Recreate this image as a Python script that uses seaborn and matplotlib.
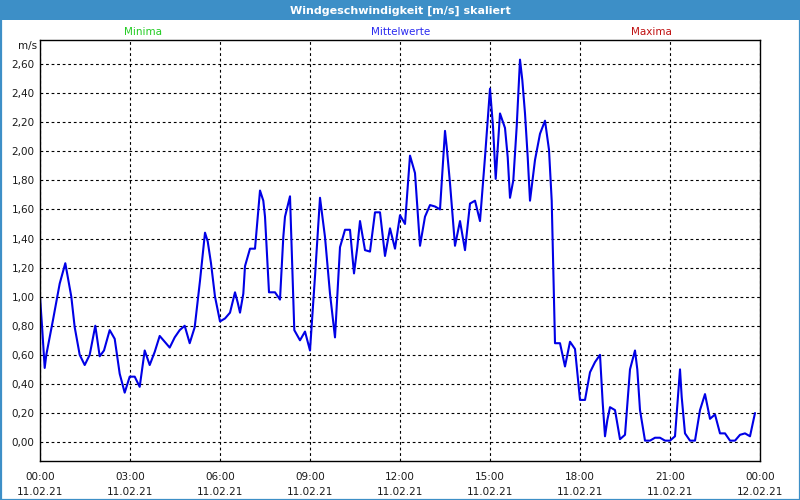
import numpy as np
import pandas as pd
import matplotlib
matplotlib.use("Agg")
import matplotlib.pyplot as plt
from matplotlib.patches import Rectangle
from matplotlib.ticker import FixedLocator, MultipleLocator, FuncFormatter
import seaborn as sns

# ---- data (x as pixel-derived clock hours) ----
title = "Windgeschwindigkeit [m/s] skaliert"
legend_labels = ["Minima", "Mittelwerte", "Maxima"]
y_unit = "m/s"
x_tick_hours = [0, 3, 6, 9, 12, 15, 18, 21, 24]
x_tick_labels = ["00:00\n11.02.21", "03:00\n11.02.21", "06:00\n11.02.21",
                 "09:00\n11.02.21", "12:00\n11.02.21", "15:00\n11.02.21",
                 "18:00\n11.02.21", "21:00\n11.02.21", "00:00\n12.02.21"]
y_ticks = [0.0, 0.2, 0.4, 0.6, 0.8, 1.0, 1.2, 1.4, 1.6, 1.8, 2.0, 2.2, 2.4, 2.6]

px_x = [40, 42, 44.7, 46.3, 53, 59.7, 65.3, 71.3, 74.7, 79.7, 84.7, 89.7, 95.3,
        99.7, 104, 109.7, 114.7, 119.7, 124.7, 129.7, 134.7, 139.7, 144.7,
        149.7, 154.7, 159.7, 164.7, 169.7, 174.7, 179.7, 184.7, 189.7, 194.7,
        200, 205, 207.7, 211, 215, 220, 225, 230, 235, 237.7, 240, 243.3, 245,
        250, 255, 260, 263.3, 265, 269, 275, 280, 283.3, 285, 290, 294.3, 300,
        305, 310, 315, 320, 325, 330, 335, 340, 345, 350,
        354, 357.3, 360, 365, 370, 375, 380, 385, 390, 395, 400, 405, 410, 415,
        420, 425, 430, 435, 440, 445, 446.7, 450, 455, 460, 465, 470, 475, 480,
        485, 490, 493, 495.7, 500,
        505, 507.7, 510, 513.3, 516.7, 520, 522.3, 525, 527.7, 530, 535, 540,
        545, 549, 551.7, 553.3, 555, 560, 565, 570, 575, 580, 585, 590, 595, 600,
        602.7, 605, 607.3, 610, 615, 620, 625, 630, 635, 637.3, 640, 645, 650,
        655, 660, 665, 670, 675, 680, 681.7, 685, 690, 695, 700, 705, 710, 715,
        720, 725, 730, 735, 740, 745, 750, 755]
speed = [1.00, 0.80, 0.51, 0.60, 0.84, 1.09, 1.23, 1.00, 0.79, 0.60, 0.53, 0.60, 0.80,
         0.59, 0.63, 0.77, 0.71, 0.47, 0.34, 0.45, 0.45, 0.38, 0.63,
         0.53, 0.62, 0.73, 0.69, 0.65, 0.72, 0.77, 0.80, 0.68, 0.79,
         1.11, 1.44, 1.38, 1.23, 1.00, 0.83, 0.85, 0.89, 1.03, 0.96, 0.89, 1.02, 1.21,
         1.33, 1.33, 1.73, 1.66, 1.55, 1.03, 1.03, 0.98, 1.41, 1.55, 1.69, 0.77, 0.70,
         0.76, 0.63, 1.14, 1.68, 1.41, 1.02, 0.72, 1.34, 1.46, 1.46,
         1.16, 1.34, 1.52, 1.32, 1.31, 1.58, 1.58, 1.28, 1.47, 1.33, 1.56, 1.50, 1.97, 1.85,
         1.35, 1.55, 1.63, 1.62, 1.60, 2.14, 2.03, 1.78, 1.35, 1.52, 1.32, 1.64, 1.66, 1.52,
         1.96, 2.43, 2.17, 1.81, 2.26,
         2.16, 1.96, 1.68, 1.80, 2.17, 2.63, 2.49, 2.26, 1.96, 1.66, 1.94, 2.12,
         2.21, 2.01, 1.66, 1.18, 0.68, 0.68, 0.52, 0.69, 0.64, 0.29, 0.29, 0.48, 0.55, 0.60,
         0.27, 0.04, 0.15, 0.24, 0.22, 0.02, 0.05, 0.50, 0.63, 0.50, 0.22, 0.01, 0.01,
         0.03, 0.03, 0.01, 0.01, 0.04, 0.50, 0.31, 0.06, 0.01, 0.01, 0.22, 0.33, 0.16, 0.19,
         0.06, 0.06, 0.01, 0.01, 0.05, 0.06, 0.04, 0.20]

hours = [(x - 40) / 30.0 for x in px_x]
df = pd.DataFrame({"hour": hours, "speed": speed})

# ---- styling ----
sns.set_style("white")
plt.rcParams["font.family"] = ["DejaVu Sans"]

W, H = 800, 500
fig = plt.figure(figsize=(8, 5), dpi=100)
fig.patch.set_facecolor("white")

frame_blue = "#3d8fc7"
# title bar
fig.patches.append(Rectangle((0, 1 - 20 / H), 1, 20 / H, transform=fig.transFigure,
                             facecolor=frame_blue, edgecolor="none", zorder=0))
# outer border
fig.patches.append(Rectangle((0.5 / W, 0.5 / H), 1 - 1 / W, 1 - 1 / H, transform=fig.transFigure,
                             facecolor="none", edgecolor=frame_blue, linewidth=1.6, zorder=5))
fig.text(0.5, 1 - 10.5 / H, title, ha="center", va="center", color="white",
         fontsize=8, fontweight="bold")

left, right, top, bottom = 40, 760, 40, 461
ax = fig.add_axes([left / W, (H - bottom) / H, (right - left) / W, (bottom - top) / H])
ax.set_facecolor("white")

sns.lineplot(data=df, x="hour", y="speed", ax=ax, color="#0000e6", linewidth=1.5,
             estimator=None, sort=False, legend=False)

ax.set_xlim(0, 24)
ax.set_ylim(-0.13, 2.765)

ax.xaxis.set_major_locator(FixedLocator(x_tick_hours))
ax.xaxis.set_minor_locator(MultipleLocator(1))
ax.set_xticklabels(x_tick_labels)
ax.yaxis.set_major_locator(FixedLocator(y_ticks))
ax.yaxis.set_major_formatter(FuncFormatter(lambda v, p: f"{v:.2f}".replace(".", ",")))

ax.tick_params(axis="x", which="both", direction="out", length=4, width=0.8,
               colors="black", labelsize=7.5, pad=3, labelcolor="#1a1a1a")
ax.tick_params(axis="x", which="major", length=5)
ax.tick_params(axis="y", which="both", length=0, labelsize=7.5, pad=4, labelcolor="#1a1a1a")
for lbl in ax.get_xticklabels():
    lbl.set_linespacing(1.65)

ax.grid(True, which="major", color="black", linestyle=(0, (2.5, 2.5)), linewidth=0.8)
ax.set_axisbelow(True)
for s in ax.spines.values():
    s.set_visible(True)
    s.set_color("black")
    s.set_linewidth(1.0)
ax.set_xlabel("")
ax.set_ylabel("")

# header labels
fig.text(143 / W, 1 - 32 / H, legend_labels[0], ha="center", va="center", color="#22cc22", fontsize=7.5)
fig.text(401 / W, 1 - 32 / H, legend_labels[1], ha="center", va="center", color="#2a2af0", fontsize=7.5)
fig.text(651 / W, 1 - 32 / H, legend_labels[2], ha="center", va="center", color="#c01010", fontsize=7.5)
fig.text(28 / W, 1 - 46 / H, y_unit, ha="center", va="center", color="#1a1a1a", fontsize=7.5)

fig.savefig("out.png", dpi=100)
